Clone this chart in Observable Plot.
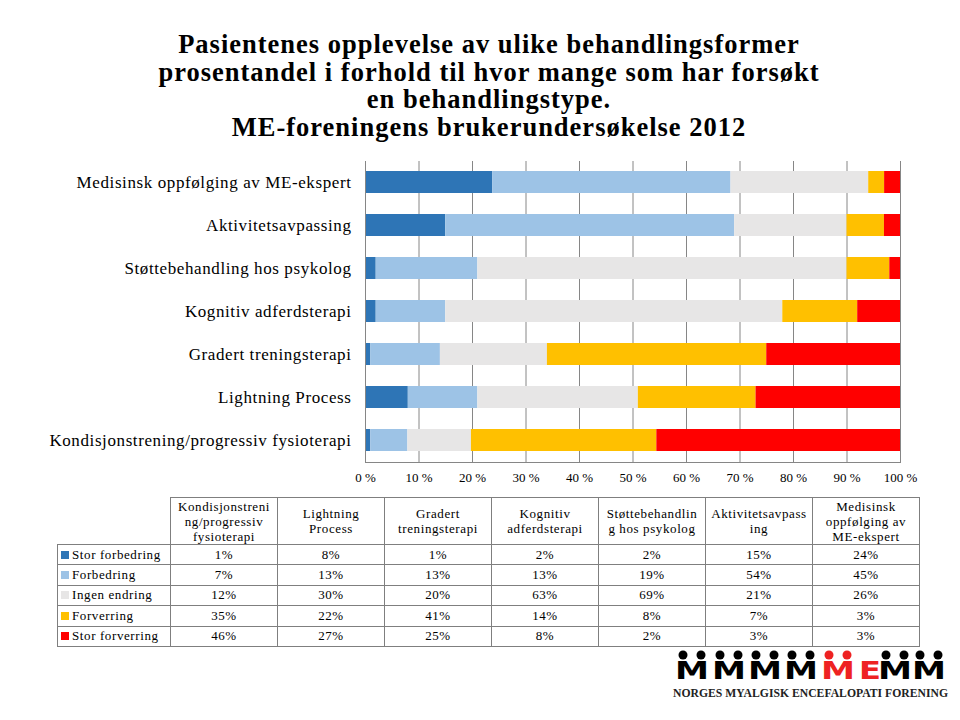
<!DOCTYPE html>
<html>
<head>
<meta charset="utf-8">
<script src="https://cdn.jsdelivr.net/npm/d3@7"></script>
<script src="https://cdn.jsdelivr.net/npm/@observablehq/plot@0.6"></script>
<style>
  html, body { margin: 0; padding: 0; background: #fff; }
  body { width: 960px; height: 720px; position: relative; overflow: hidden; font-family: "Liberation Serif", serif; color: #000; }
  #title { position: absolute; left: 0; width: 978px; top: 31px; text-align: center; font-weight: bold; font-size: 26.5px; letter-spacing: 1px; line-height: 27.7px; }
  #chart { position: absolute; left: 0; top: 150px; }
  #table { position: absolute; left: 57px; top: 497px; border-collapse: collapse; font-size: 13px; letter-spacing: 0.6px; table-layout: fixed; }
  #table td, #table th { border: 1px solid #7f7f7f; padding: 0 1px; text-align: center; font-weight: normal; }
  #table th { height: 46px; white-space: pre-line; line-height: 15px; font-size: 13px; }
  #table td { height: 19.4px; }
  #table th.corner { border-top: none; border-left: none; }
  #table td.lab { text-align: left; white-space: nowrap; padding-left: 3px; }
  .sw { display: inline-block; width: 8px; height: 8px; margin-right: 3px; vertical-align: 0px; }
  #logo { position: absolute; left: 668px; top: 644px; }
</style>
</head>
<body>
<div id="title">Pasientenes opplevelse av ulike behandlingsformer<br>prosentandel i forhold til hvor mange som har forsøkt<br>en behandlingstype.<br>ME-foreningens brukerundersøkelse 2012</div>
<div id="chart"></div>
<table id="table"></table>
<svg id="logo" width="290" height="70"></svg>
<script>
// Categories, top to bottom in the chart
const categories = [
  "Medisinsk oppfølging av ME-ekspert",
  "Aktivitetsavpassing",
  "Støttebehandling hos psykolog",
  "Kognitiv adferdsterapi",
  "Gradert treningsterapi",
  "Lightning Process",
  "Kondisjonstrening/progressiv fysioterapi"
];
const seriesNames = ["Stor forbedring", "Forbedring", "Ingen endring", "Forverring", "Stor forverring"];
const seriesColors = ["#2E75B6", "#9DC3E6", "#E7E6E6", "#FFC000", "#FF0000"];

// Values (%) per series, in the same order as categories
const storForbedring = [24, 15, 2, 2, 1, 8, 1];
const forbedring     = [45, 54, 19, 13, 13, 13, 7];
const ingenEndring   = [26, 21, 69, 63, 20, 30, 12];
const forverring     = [3, 7, 8, 14, 41, 22, 35];
const storForverring = [3, 3, 2, 8, 25, 27, 46];

const xTicks = [0, 0.1, 0.2, 0.3, 0.4, 0.5, 0.6, 0.7, 0.8, 0.9, 1];

// Table column headers (table runs in reverse category order)
const tableHeaders = [
  "Kondisjonstreni\nng/progressiv\nfysioterapi",
  "Lightning\nProcess",
  "Gradert\ntreningsterapi",
  "Kognitiv\nadferdsterapi",
  "Støttebehandlin\ng hos psykolog",
  "Aktivitetsavpass\ning",
  "Medisinsk\noppfølging av\nME-ekspert"
];

const seriesValues = [storForbedring, forbedring, ingenEndring, forverring, storForverring];
const data = categories.flatMap((c, i) =>
  seriesNames.map((s, j) => ({category: c, series: s, value: seriesValues[j][i]}))
);

const chart = Plot.plot({
  width: 960,
  height: 340,
  marginLeft: 365,
  marginRight: 60,
  marginTop: 11,
  marginBottom: 28,
  style: {fontFamily: "Liberation Serif", fontSize: "16px", color: "#000", background: "transparent"},
  x: {domain: [0, 1], label: null},
  y: {domain: categories, label: null, paddingInner: 0.485, paddingOuter: 0.2425},
  color: {domain: seriesNames, range: seriesColors},
  marks: [
    Plot.gridX(xTicks, {stroke: "#868686", strokeOpacity: 1}),
    Plot.barX(data, Plot.stackX({x: "value", y: "category", fill: "series", offset: "normalize"})),
    Plot.ruleX([0], {stroke: "#868686"}),
    Plot.frame({anchor: "bottom", stroke: "#868686"}),
    Plot.axisX({ticks: xTicks, tickSize: 0, tickPadding: 10, fontSize: 13, fontFamily: "Liberation Serif", tickFormat: d => Math.round(d * 100) + " %"}),
    Plot.axisY({tickSize: 0, tickPadding: 14, fontSize: 17, fontFamily: "Liberation Serif", style: "letter-spacing: 0.6px"})
  ]
});
chart.querySelectorAll("g[aria-label='y-axis tick label'] text").forEach(t => t.style.letterSpacing = "0.6px");
document.getElementById("chart").appendChild(chart);

// Data table
const table = d3.select("#table");
const colgroup = table.append("colgroup");
colgroup.append("col").style("width", "113px");
tableHeaders.forEach(() => colgroup.append("col").style("width", "107px"));
const head = table.append("tr");
head.append("th").attr("class", "corner");
tableHeaders.forEach(h => head.append("th").text(h));
const tableCats = categories.slice().reverse();
seriesNames.forEach((s, j) => {
  const tr = table.append("tr");
  const lab = tr.append("td").attr("class", "lab");
  lab.append("span").attr("class", "sw").style("background", seriesColors[j]);
  lab.append("span").text(s);
  tableCats.forEach(c => {
    const i = categories.indexOf(c);
    tr.append("td").text(seriesValues[j][i] + "%");
  });
});

// Logo (decoration)
const logo = d3.select("#logo");
const groups = [
  {x: 24, c: "#000", t: "M"}, {x: 61, c: "#000", t: "M"}, {x: 97, c: "#000", t: "M"}, {x: 133, c: "#000", t: "M"},
  {x: 170, c: "#ee2222", t: "M"}, {x: 202, c: "#ee2222", t: "E", noHead: true},
  {x: 227, c: "#000", t: "M"}, {x: 261, c: "#000", t: "M"}
];
groups.forEach(g => {
  logo.append("text").attr("x", g.x).attr("y", 35).attr("text-anchor", "middle")
    .attr("font-family", "DejaVu Sans").attr("font-weight", "bold").attr("font-size", 25)
    .attr("textLength", g.t === "E" ? 22 : 34).attr("lengthAdjust", "spacingAndGlyphs")
    .attr("fill", g.c).text(g.t);
  if (!g.noHead) {
    [-9, 9].forEach(dx => logo.append("circle").attr("cx", g.x + dx).attr("cy", 11).attr("r", 4.5).attr("fill", g.c));
  }
});
logo.append("text").attr("x", 5).attr("y", 53).attr("font-family", "Liberation Serif").attr("font-weight", "bold")
  .attr("font-size", 12).attr("textLength", 275).attr("lengthAdjust", "spacingAndGlyphs").attr("fill", "#222")
  .text("NORGES MYALGISK ENCEFALOPATI FORENING");
</script>
</body>
</html>
